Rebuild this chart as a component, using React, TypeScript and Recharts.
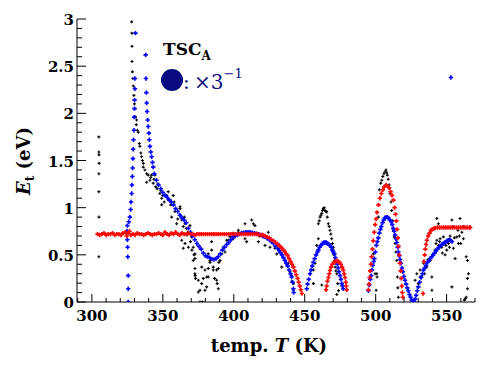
import { ScatterChart, Scatter, XAxis, YAxis } from 'recharts';

// measured points [T (K), Et (eV)]
const blackPts: [number, number][] = [
  [304.9, 1.75], [304.9, 1.59], [305.0, 1.56], [305.1, 1.47], [304.9, 1.36], [304.9, 1.17], [305.0, 0.9], [304.9, 0.48],
  [328.0, 2.97], [328.2, 2.85], [328.3, 2.71], [328.3, 2.55], [328.5, 2.44], [328.9, 2.37], [329.2, 2.29], [329.6, 2.19],
  [330.0, 2.1], [330.3, 2.05], [330.8, 1.96], [331.3, 1.88], [331.5, 1.93], [332.0, 1.82], [332.7, 1.8], [333.4, 1.68],
  [333.8, 1.65], [334.5, 1.58], [335.0, 1.54], [335.6, 1.5], [336.2, 1.47], [336.2, 1.43], [337.4, 1.4], [338.6, 1.27],
  [338.6, 1.36], [339.7, 1.345], [340.9, 1.29], [341.5, 1.32], [342.1, 1.345], [343.2, 1.26], [343.8, 1.3], [344.4, 1.345],
  [345.0, 1.22], [346.0, 1.2], [346.5, 1.25], [347.9, 1.15], [348.5, 1.18], [349.2, 1.1], [349.2, 1.03], [350.0, 1.13],
  [351.0, 1.06], [352.7, 1.13], [353.8, 1.17], [353.8, 1.09], [355.0, 1.08], [355.6, 1.03], [356.2, 0.9], [357.3, 1.13],
  [358.0, 1.06], [358.5, 0.96], [359.7, 0.83], [360.5, 0.88], [362.1, 0.99], [362.1, 1.01], [362.5, 0.92], [363.3, 0.87],
  [363.3, 0.655], [363.8, 0.885], [364.4, 0.8], [364.4, 0.57], [365.1, 0.9], [365.6, 0.62], [365.6, 0.83], [366.5, 0.78],
  [367.0, 0.71], [367.5, 0.74], [368.0, 0.58], [369.1, 0.81], [369.5, 0.64], [370.3, 0.69], [370.5, 0.55], [371.4, 0.58],
  [371.4, 0.44], [372.0, 0.5], [372.6, 0.51], [372.6, 0.46], [372.6, 0.355], [372.6, 0.3], [372.8, 0.28], [373.0, 0.25],
  [375.0, 0.23], [375.0, 0.106], [376.2, 0.124], [376.2, 0.0], [377.4, 0.37], [377.4, 0.195], [378.0, 0.0], [378.5, 0.25],
  [379.7, 0.34], [379.7, 0.124], [380.9, 0.16], [380.9, 0.265], [382.0, 0.265], [382.0, 0.355], [383.2, 0.42], [383.2, 0.44],
  [382.0, 0.51], [384.4, 0.64], [384.4, 0.55], [385.5, 0.37], [385.5, 0.34], [386.5, 0.25], [387.9, 0.34], [387.9, 0.23],
  [388.3, 0.195], [389.1, 0.14], [389.1, 0.355], [389.5, 0.42], [390.3, 0.44], [391.5, 0.51], [392.6, 0.58], [393.8, 0.53],
  [395.0, 0.655], [396.1, 0.655], [397.3, 0.69], [399.6, 0.73], [399.6, 0.67], [403.2, 0.76], [403.2, 0.74], [405.6, 0.74],
  [407.9, 0.83], [407.9, 0.67], [409.1, 0.64], [411.4, 0.74], [412.6, 0.87], [413.8, 0.83], [414.9, 0.81], [416.1, 0.73],
  [417.3, 0.64], [418.0, 0.7], [420.8, 0.69], [422.0, 0.6], [424.3, 0.74], [425.5, 0.58], [427.9, 0.62], [429.0, 0.57],
  [430.3, 0.51], [432.6, 0.53], [433.8, 0.37], [435.0, 0.47], [436.1, 0.44], [437.3, 0.4], [438.4, 0.41], [439.6, 0.32],
  [440.5, 0.28], [441.0, 0.22], [442.0, 0.195], [442.0, 0.124],
  [456.1, 0.34], [456.1, 0.195], [457.3, 0.41], [458.5, 0.6], [459.6, 0.67], [459.6, 0.83], [460.2, 0.86], [460.8, 0.9],
  [461.4, 0.92], [462.0, 0.94], [462.0, 0.18], [462.5, 0.97], [463.1, 0.99], [463.7, 1.0], [464.3, 0.97], [464.9, 0.96],
  [465.5, 0.955], [465.9, 0.9], [466.6, 0.83], [467.2, 0.8], [467.8, 0.76], [468.4, 0.72], [469.0, 0.67], [469.6, 0.62],
  [470.2, 0.58], [470.6, 0.5], [470.9, 0.44], [471.4, 0.37], [472.0, 0.33], [472.6, 0.3], [473.3, 0.195], [472.6, 0.08],
  [473.8, 0.12],
  [498.4, 0.51], [499.6, 0.3], [500.3, 0.124], [500.8, 0.3], [501.0, 0.265], [501.9, 0.9], [502.6, 1.19], [503.1, 1.1],
  [503.6, 1.26], [504.3, 1.29], [505.0, 1.33], [505.8, 1.36], [506.6, 1.38], [507.3, 1.4], [507.8, 1.37], [508.2, 1.345],
  [508.8, 1.3], [509.5, 1.24], [510.2, 1.15], [510.8, 1.06], [511.3, 0.97], [511.9, 0.86], [512.5, 0.76], [513.1, 0.69],
  [513.7, 0.62], [514.3, 0.53], [514.9, 0.44], [515.3, 0.265], [515.6, 0.15], [516.0, 0.05],
  [527.8, 0.23], [529.0, 0.3], [530.1, 0.195], [531.3, 0.34], [531.3, 0.265], [532.5, 0.265], [533.7, 0.41], [534.5, 0.3],
  [536.0, 0.37], [537.0, 0.45], [538.4, 0.44], [539.6, 0.265], [539.6, 0.124], [540.7, 0.5], [541.9, 0.55], [543.1, 0.655],
  [543.1, 0.885], [544.2, 0.6], [544.2, 0.83], [545.4, 0.67], [546.6, 0.58], [547.7, 0.69], [548.9, 0.5], [550.1, 0.55],
  [551.3, 0.62], [552.5, 0.7], [553.7, 0.87], [553.7, 0.16], [554.4, 0.8], [554.8, 0.57], [556.0, 0.46], [557.2, 0.69],
  [558.3, 0.62], [559.5, 0.885], [560.7, 0.74], [561.8, 0.67], [563.8, 0.48], [564.7, 0.44], [565.4, 0.3], [564.7, 0.25],
  [564.7, 0.14], [563.8, 0.05], [563.1, 0.035], [562.5, 0.02], [542.5, 0.62], [545.0, 0.64], [547.0, 0.52], [549.5, 0.6],
  [552.0, 0.58], [555.5, 0.68], [558.0, 0.76], [560.0, 0.62], [562.0, 0.8], [559.0, 0.7],
];

const bluePts: [number, number][] = [
  [325.6, 0.0], [325.6, 0.14], [325.6, 0.28], [325.3, 0.48], [325.2, 0.58], [325.0, 0.66], [324.8, 0.75], [325.0, 0.81],
  [326.0, 0.85], [326.8, 0.9], [327.3, 0.98], [327.6, 1.06], [328.0, 1.15], [328.2, 1.24], [328.5, 1.33], [328.7, 1.42],
  [328.9, 1.52], [329.1, 1.62], [329.3, 1.72], [329.6, 1.82], [329.8, 1.96], [330.0, 2.05], [330.1, 2.14], [330.3, 2.26],
  [330.3, 2.37], [330.7, 2.85],
  [337.9, 2.62], [338.1, 2.37], [338.4, 2.22], [338.6, 2.11], [338.9, 2.02], [339.3, 1.93], [339.7, 1.86], [340.2, 1.79],
  [340.5, 1.72], [340.9, 1.65], [341.5, 1.59], [342.1, 1.54], [342.7, 1.48], [343.2, 1.43], [344.0, 1.36], [345.5, 1.29],
  [347.0, 1.24], [348.5, 1.2], [350.0, 1.16], [351.5, 1.13], [353.0, 1.11], [354.5, 1.08], [356.0, 1.06], [357.5, 1.03],
  [359.0, 0.99], [360.5, 0.96], [362.0, 0.92], [363.5, 0.89], [365.0, 0.87], [366.5, 0.84], [368.0, 0.78], [369.5, 0.74],
  [371.0, 0.7], [372.5, 0.66], [374.0, 0.62], [375.5, 0.59], [377.0, 0.56], [378.5, 0.52], [380.0, 0.49], [381.5, 0.48],
  [383.0, 0.47], [384.5, 0.455], [386.0, 0.45], [387.5, 0.46], [389.0, 0.48], [390.5, 0.51], [392.0, 0.55], [393.5, 0.58],
  [395.0, 0.61], [396.5, 0.63], [398.0, 0.66], [399.5, 0.69], [401.0, 0.7], [402.5, 0.71], [404.0, 0.72], [405.5, 0.73],
  [407.0, 0.735], [408.5, 0.74], [410.0, 0.74], [411.5, 0.74], [413.0, 0.735], [414.5, 0.73], [416.0, 0.725], [417.5, 0.72],
  [419.0, 0.71], [420.5, 0.7], [422.0, 0.69], [423.5, 0.675], [425.0, 0.66], [426.5, 0.64], [428.0, 0.62], [429.5, 0.59],
  [431.0, 0.565], [432.0, 0.545], [433.0, 0.52], [434.0, 0.5], [435.0, 0.47], [436.0, 0.44], [437.0, 0.41], [438.0, 0.38],
  [439.0, 0.34], [440.0, 0.3], [440.8, 0.265], [441.4, 0.21], [442.0, 0.14], [442.2, 0.1],
  [451.4, 0.14], [452.0, 0.19], [452.8, 0.24], [453.7, 0.3], [454.5, 0.34], [455.3, 0.38], [456.1, 0.42], [457.0, 0.46],
  [458.0, 0.5], [459.0, 0.53], [459.6, 0.55], [460.5, 0.58], [461.5, 0.6], [462.5, 0.62], [463.5, 0.63], [464.3, 0.63],
  [465.2, 0.63], [466.0, 0.62], [467.0, 0.61], [467.8, 0.6], [468.7, 0.58], [469.5, 0.55], [470.2, 0.53], [470.9, 0.51],
  [471.6, 0.47], [472.3, 0.43], [473.0, 0.4], [473.6, 0.36], [474.2, 0.32], [474.9, 0.28], [475.5, 0.24], [476.1, 0.195],
  [476.6, 0.17], [477.2, 0.14],
  [494.9, 0.12], [495.5, 0.18], [496.2, 0.24], [496.8, 0.28], [497.4, 0.34], [498.0, 0.39], [498.6, 0.43], [499.1, 0.46],
  [499.8, 0.53], [500.5, 0.6], [501.2, 0.64], [501.9, 0.68], [502.6, 0.73], [503.3, 0.77], [504.0, 0.8], [504.8, 0.84],
  [505.6, 0.87], [506.4, 0.89], [507.3, 0.9], [508.2, 0.9], [509.0, 0.89], [510.0, 0.87], [511.0, 0.85], [511.7, 0.82],
  [512.4, 0.78], [513.0, 0.75], [513.7, 0.71], [514.3, 0.67], [514.9, 0.63], [515.5, 0.58], [516.0, 0.53], [516.6, 0.49],
  [517.2, 0.45], [517.8, 0.41], [518.5, 0.36], [519.2, 0.32], [519.9, 0.27], [520.7, 0.23], [521.5, 0.19], [522.3, 0.15],
  [523.0, 0.12], [523.8, 0.08], [524.6, 0.05], [525.4, 0.02], [526.1, 0.0], [527.0, 0.01], [527.8, 0.03], [528.5, 0.07],
  [529.3, 0.12], [530.1, 0.16], [531.0, 0.21], [532.0, 0.26], [533.0, 0.3], [533.7, 0.34], [534.5, 0.36], [535.5, 0.39],
  [536.5, 0.42], [537.5, 0.44], [538.4, 0.46], [539.5, 0.48], [540.5, 0.5], [541.5, 0.52], [542.5, 0.54], [543.5, 0.56],
  [544.5, 0.58], [545.5, 0.59], [546.5, 0.61], [547.7, 0.62], [548.7, 0.63], [549.6, 0.64], [550.5, 0.65], [551.3, 0.655],
  [552.2, 0.66], [553.0, 0.65], [553.7, 0.64],
  [553.0, 2.38],
];

const redPts: [number, number][] = [
  [304.0, 0.72], [305.5, 0.71], [307.0, 0.72], [308.5, 0.73], [310.0, 0.71], [311.5, 0.72], [313.0, 0.72], [314.5, 0.73],
  [316.0, 0.71], [317.5, 0.72], [319.0, 0.72], [320.5, 0.71], [322.0, 0.73], [323.5, 0.74], [324.5, 0.7], [325.5, 0.73],
  [326.5, 0.75], [327.5, 0.71], [329.0, 0.72], [330.5, 0.71], [332.0, 0.73], [333.5, 0.72], [335.0, 0.72], [336.5, 0.71],
  [338.0, 0.72], [339.5, 0.73], [341.0, 0.72], [342.5, 0.71], [344.0, 0.72], [345.5, 0.72], [347.0, 0.73], [348.5, 0.72],
  [350.0, 0.71], [351.5, 0.74], [353.0, 0.72], [354.5, 0.71], [356.0, 0.73], [357.5, 0.72], [359.0, 0.74], [360.5, 0.72],
  [362.0, 0.71], [363.5, 0.73], [365.0, 0.72], [366.5, 0.72], [368.0, 0.73], [369.5, 0.72], [371.0, 0.72], [372.5, 0.71],
  [374.0, 0.72], [375.5, 0.72], [377.0, 0.72], [378.5, 0.72], [380.0, 0.72], [381.5, 0.72], [383.0, 0.72], [384.5, 0.72],
  [386.0, 0.72], [387.5, 0.72], [389.0, 0.72], [390.5, 0.72], [392.0, 0.72], [393.5, 0.72], [395.0, 0.72], [396.5, 0.72],
  [398.0, 0.72], [399.5, 0.72], [401.0, 0.72], [402.5, 0.72], [404.0, 0.72], [405.5, 0.72], [407.0, 0.72], [408.5, 0.72],
  [410.0, 0.72], [411.5, 0.72], [413.0, 0.72], [414.5, 0.72], [416.0, 0.72], [417.5, 0.715], [419.0, 0.71], [420.5, 0.71],
  [422.0, 0.7], [423.5, 0.69], [425.0, 0.68], [426.5, 0.66], [428.0, 0.65], [429.5, 0.63], [431.0, 0.61], [432.0, 0.6],
  [433.0, 0.58], [434.0, 0.57], [435.0, 0.55], [436.0, 0.53], [437.0, 0.51], [438.0, 0.49], [439.0, 0.46], [440.0, 0.43],
  [441.0, 0.4], [442.0, 0.37], [443.0, 0.33], [444.0, 0.29], [445.0, 0.25], [445.7, 0.21], [446.5, 0.17], [447.3, 0.13],
  [448.0, 0.09],
  [465.0, 0.13], [465.5, 0.17], [466.0, 0.22], [466.7, 0.26], [467.3, 0.3], [467.8, 0.335], [468.5, 0.37], [469.5, 0.4],
  [470.5, 0.42], [471.5, 0.43], [472.6, 0.435], [473.5, 0.43], [474.5, 0.42], [475.4, 0.4], [476.3, 0.37], [477.2, 0.34],
  [477.8, 0.3], [478.4, 0.26], [478.9, 0.21], [479.3, 0.17], [479.6, 0.13],
  [494.9, 0.13], [495.3, 0.19], [495.7, 0.26], [496.1, 0.33], [496.6, 0.4], [497.1, 0.48], [497.7, 0.56], [498.3, 0.65],
  [499.0, 0.74], [499.6, 0.82], [500.3, 0.88], [501.0, 0.95], [502.0, 1.03], [503.0, 1.1], [504.0, 1.15], [505.0, 1.19],
  [506.0, 1.22], [507.3, 1.24], [508.5, 1.23], [509.5, 1.21], [510.5, 1.17], [511.5, 1.13], [512.5, 1.08], [513.3, 1.0],
  [514.0, 0.93], [514.6, 0.86], [515.1, 0.77], [515.6, 0.68], [516.1, 0.59], [516.6, 0.5], [517.1, 0.41], [517.6, 0.33],
  [518.0, 0.25], [518.4, 0.17], [518.8, 0.1], [519.1, 0.05],
  [533.4, 0.09], [534.0, 0.43], [534.5, 0.5], [535.0, 0.56], [535.5, 0.61], [536.1, 0.655], [537.0, 0.7], [538.0, 0.73],
  [539.0, 0.76], [540.0, 0.77], [541.0, 0.78], [542.0, 0.785], [543.5, 0.79], [545.0, 0.79], [546.5, 0.79], [548.0, 0.79],
  [549.5, 0.79], [551.0, 0.79], [552.5, 0.79], [554.0, 0.79], [555.5, 0.79], [557.0, 0.79], [558.5, 0.79], [560.0, 0.79],
  [561.5, 0.79], [563.0, 0.79], [564.5, 0.79], [566.0, 0.79], [566.6, 0.79],
];

const xTicks = [290, 300, 310, 320, 330, 340, 350, 360, 370, 380, 390, 400, 410, 420, 430, 440, 450, 460, 470, 480, 490, 500, 510, 520, 530, 540, 550, 560, 570];
const xLabels = [300, 350, 400, 450, 500, 550];
const yTicks = [0, 0.1, 0.2, 0.3, 0.4, 0.5, 0.6, 0.7, 0.8, 0.9, 1, 1.1, 1.2, 1.3, 1.4, 1.5, 1.6, 1.7, 1.8, 1.9, 2, 2.1, 2.2, 2.3, 2.4, 2.5, 2.6, 2.7, 2.8, 2.9, 3];
const yLabels = [0, 0.5, 1, 1.5, 2, 2.5, 3];

const toXY = (pts: [number, number][]) => pts.map(([x, y]) => ({ x, y }));

const SERIF = 'DejaVu Serif';
const NAVY = '#0a0a80';

const plus = (color: string, h: number, w: number) => (props: any) => {
  const { cx, cy } = props;
  return (
    <path
      d={`M${cx - h} ${cy}H${cx + h}M${cx} ${cy - h}V${cy + h}`}
      stroke={color}
      strokeWidth={w}
      fill="none"
    />
  );
};

const XTick = (props: any) => {
  const { x, y, payload } = props;
  const major = xLabels.includes(payload.value);
  return (
    <g>
      <line x1={x} y1={y} x2={x} y2={y - (major ? 8 : 4)} stroke="#000" strokeWidth={1} />
      {major && (
        <text x={x} y={y + 19} textAnchor="middle" fontFamily={SERIF} fontWeight="bold" fontSize={15} fill="#000">
          {payload.value}
        </text>
      )}
    </g>
  );
};

const YTick = (props: any) => {
  const { x, y, payload } = props;
  const label = yLabels.find((v) => Math.abs(v - payload.value) < 1e-6);
  const major = label !== undefined;
  return (
    <g>
      <line x1={x} y1={y} x2={x + (major ? 9 : 5)} y2={y} stroke="#000" strokeWidth={1} />
      {major && (
        <text x={x - 3} y={y + 6} textAnchor="end" fontFamily={SERIF} fontWeight="bold" fontSize={15} fill="#000">
          {String(label)}
        </text>
      )}
    </g>
  );
};

export default function App() {
  return (
    <div style={{ position: 'absolute', left: 0, top: 0, width: 492, height: 365, background: '#fff' }}>
      <ScatterChart width={492} height={365} margin={{ top: 19, right: 17, bottom: 0, left: 0 }}>
        <XAxis
          type="number"
          dataKey="x"
          domain={[289.5, 570]}
          ticks={xTicks}
          interval={0}
          tick={<XTick />}
          tickLine={false}
          tickSize={0}
          tickMargin={0}
          height={63}
          axisLine={{ stroke: '#000' }}
          allowDataOverflow
        />
        <YAxis
          type="number"
          dataKey="y"
          domain={[0, 3]}
          ticks={yTicks}
          interval={0}
          tick={<YTick />}
          tickLine={false}
          tickSize={0}
          tickMargin={0}
          width={77}
          axisLine={{ stroke: '#000' }}
          allowDataOverflow
        />
        <Scatter data={toXY(blackPts)} shape={plus('#000', 1.5, 1.1)} isAnimationActive={false} />
        <Scatter data={toXY(bluePts)} shape={plus('#0000ff', 2.2, 1.6)} isAnimationActive={false} />
        <Scatter data={toXY(redPts)} shape={plus('#ff0000', 2.2, 1.6)} isAnimationActive={false} />
      </ScatterChart>
      <svg width={492} height={365} style={{ position: 'absolute', left: 0, top: 0, pointerEvents: 'none' }}>
        <text x={269} y={352} textAnchor="middle" fontFamily={SERIF} fontWeight="bold" fontSize={18} fill="#000">
          temp. <tspan fontStyle="italic">T</tspan> (K)
        </text>
        <text
          x={30}
          y={161}
          textAnchor="middle"
          transform="rotate(-90 30 161)"
          fontFamily={SERIF}
          fontWeight="bold"
          fontSize={18}
          fill="#000"
        >
          <tspan fontStyle="italic">E</tspan>
          <tspan fontSize={12} dy={4}>t</tspan>
          <tspan dy={-4}> (eV)</tspan>
        </text>
        <text x={163} y={55} fontFamily={SERIF} fontWeight="bold" fontSize={17} fill="#000">
          TSC<tspan fontSize={12} dy={5}>A</tspan>
        </text>
        <circle cx={172} cy={80} r={11} fill={NAVY} />
        <text x={183} y={89} fontFamily={SERIF} fontSize={20} fill={NAVY}>:</text>
        <text x={194} y={89} fontFamily={SERIF} fontSize={20} fill={NAVY}>
          ×3<tspan fontSize={13} dy={-11}>−1</tspan>
        </text>
      </svg>
    </div>
  );
}
